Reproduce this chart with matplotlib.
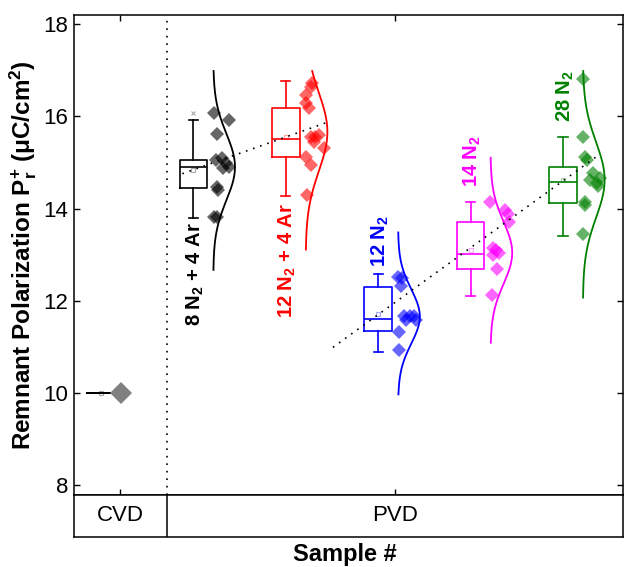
import numpy as np
import matplotlib
matplotlib.use("Agg")
import matplotlib.pyplot as plt

plt.rcParams["font.family"] = ["Liberation Sans", "DejaVu Sans"]
plt.rcParams["mathtext.fontset"] = "custom"
plt.rcParams["mathtext.rm"] = "Liberation Sans"
plt.rcParams["mathtext.bf"] = "Liberation Sans:bold"
plt.rcParams["mathtext.it"] = "Liberation Sans:italic"

# sample groups: CVD reference plus the PVD gas mixtures
positions = [0, 1, 2, 3, 4, 5]
group_names = ["CVD",
               r"8 N$_\mathbf{2}$ + 4 Ar",
               r"12 N$_\mathbf{2}$ + 4 Ar",
               r"12 N$_\mathbf{2}$",
               r"14 N$_\mathbf{2}$",
               r"28 N$_\mathbf{2}$"]
colors = ["black", "black", "#ff0000", "#0000ff", "#ff00ff", "#008000"]

# measured Pr+ per device (uC/cm^2) and horizontal scatter offsets
pts_cvd = [10.0]
pts_8n2_4ar = [16.07, 15.92, 15.62, 15.06, 15.10, 14.99, 14.90, 14.88, 14.47, 14.41, 13.82, 13.82]
pts_12n2_4ar = [16.72, 16.64, 16.46, 16.29, 16.18, 15.55, 15.55, 15.60, 15.45, 15.32, 15.12, 14.95, 14.30]
pts_12n2 = [12.52, 12.50, 12.31, 11.66, 11.66, 11.66, 11.59, 11.59, 11.33, 10.94]
pts_14n2 = [14.15, 13.97, 13.87, 13.71, 13.15, 13.11, 13.04, 13.00, 12.68, 12.13]
pts_28n2 = [16.81, 15.55, 15.12, 15.06, 14.77, 14.62, 14.56, 14.67, 14.49, 14.15, 14.08, 13.45]

jit_cvd = [0.22]
jit_8n2_4ar = [0.22, 0.39, 0.26, 0.24, 0.31, 0.35, 0.38, 0.32, 0.26, 0.27, 0.26, 0.22]
jit_12n2_4ar = [0.28, 0.27, 0.22, 0.22, 0.25, 0.27, 0.32, 0.36, 0.30, 0.41, 0.22, 0.27, 0.23]
jit_12n2 = [0.21, 0.26, 0.25, 0.28, 0.34, 0.39, 0.41, 0.30, 0.23, 0.22]
jit_14n2 = [0.21, 0.37, 0.40, 0.42, 0.24, 0.28, 0.31, 0.24, 0.29, 0.23]
jit_28n2 = [0.22, 0.22, 0.24, 0.26, 0.32, 0.29, 0.37, 0.40, 0.38, 0.24, 0.24, 0.22]

points = [pts_cvd, pts_8n2_4ar, pts_12n2_4ar, pts_12n2, pts_14n2, pts_28n2]
jitters = [jit_cvd, jit_8n2_4ar, jit_12n2_4ar, jit_12n2, jit_14n2, jit_28n2]

# box statistics
box_med = [10.0, 14.90, 15.51, 11.61, 13.02, 14.58]
box_q1 = [10.0, 14.45, 15.12, 11.35, 12.68, 14.13]
box_q3 = [10.0, 15.06, 16.18, 12.29, 13.71, 14.90]
box_lo = [10.0, 13.80, 14.28, 10.90, 12.11, 13.41]
box_hi = [10.0, 15.92, 16.77, 12.57, 14.15, 15.55]
box_mean = [10.0, 14.84, 15.55, 11.72, 13.11, 14.62]
box_fliers = [[], [16.07], [], [], [], []]

# normal fits drawn beside each PVD group (CVD has none)
fit_mu = [None, 14.90, 15.66, 11.66, 13.04, 14.62]
fit_sd = [None, 0.72, 0.85, 0.59, 0.67, 0.82]
fit_lo = [None, 12.67, 13.11, 9.97, 11.09, 12.07]
fit_hi = [None, 16.98, 16.98, 13.48, 15.10, 16.98]

# where each group label sits: (anchor value, above/below the box)
label_y = [None, 13.70, 14.12, 12.74, 14.47, 15.88]
label_va = [None, "top", "top", "bottom", "bottom", "bottom"]

# linear trends over the group means
trend_groups = [[1, 2], [3, 4, 5]]
trend_span = [(0.88, 2.46), (2.51, 5.40)]

fig = plt.figure(figsize=(6.25, 5.67), dpi=100)
ax = fig.add_axes([0.1184, 0.127, 0.8784, 0.8466])
band = fig.add_axes([0.1184, 0.0529, 0.8784, 0.0741])

xmin, xmax = -0.292, 5.649
split = 0.714

stats = []
for i in range(len(positions)):
    stats.append(dict(med=box_med[i], q1=box_q1[i], q3=box_q3[i],
                      whislo=box_lo[i], whishi=box_hi[i], mean=box_mean[i],
                      fliers=box_fliers[i]))

art = ax.bxp(stats, positions=positions, widths=0.30, capwidths=0.10,
             showmeans=True, manage_ticks=False, patch_artist=False)
for i, c in enumerate(colors):
    bc = "black" if i == 0 else c
    art["boxes"][i].set(color=bc, linewidth=1.2)
    art["medians"][i].set(color=bc, linewidth=1.2)
    for ln in art["whiskers"][2 * i:2 * i + 2] + art["caps"][2 * i:2 * i + 2]:
        ln.set(color=bc, linewidth=1.2)
    art["means"][i].set(marker="s", markersize=3, markerfacecolor="none",
                        markeredgecolor=bc, alpha=0.35, markeredgewidth=0.8)
    art["fliers"][i].set(marker="x", markersize=3, markeredgecolor="#aaaaaa",
                         markeredgewidth=0.8)

for i, (pos, pts, jit) in enumerate(zip(positions, points, jitters)):
    x = pos + np.array(jit)
    if i == 0:
        ax.plot(x, pts, "D", color="#808080", markersize=11,
                markeredgewidth=0, zorder=3)
    else:
        ax.plot(x, pts, "D", color=colors[i], alpha=0.6, markersize=7.5,
                markeredgewidth=0, zorder=3)

for i, pos in enumerate(positions):
    if fit_mu[i] is None:
        continue
    yy = np.linspace(fit_lo[i], fit_hi[i], 200)
    w = np.exp(-0.5 * ((yy - fit_mu[i]) / fit_sd[i]) ** 2)
    ax.plot(pos + 0.215 + 0.235 * w, yy, color=colors[i], linewidth=1.3, zorder=2)
    ax.text(pos + 0.02, label_y[i], group_names[i], rotation=90, color=colors[i],
            fontsize=14.5, fontweight="bold", ha="center", va=label_va[i])

for grp, (x0, x1) in zip(trend_groups, trend_span):
    gx = [positions[g] for g in grp]
    gy = [box_mean[g] for g in grp]
    k, b = np.polyfit(gx, gy, 1)
    xs = np.array([x0, x1])
    ax.plot(xs, k * xs + b, color="black", linewidth=1.2,
            linestyle=(0, (1, 3.5)), zorder=5)

ax.axvline(split, color="black", linewidth=1.2, linestyle=(0, (1, 3.5)))

ax.set_xlim(xmin, xmax)
ax.set_ylim(7.79, 18.195)
ax.set_yticks([8, 10, 12, 14, 16, 18])
ax.set_xticks([(xmin + split) / 2, (split + xmax) / 2])
ax.set_xticklabels([])
ax.tick_params(direction="in", top=True, right=True, length=4, width=1,
               labelsize=16, pad=4)
for sp in ax.spines.values():
    sp.set_linewidth(1.1)
ax.set_ylabel(r"Remnant Polarization P$_\mathbf{r}^\mathbf{+}$ (μC/cm$^\mathbf{2}$)",
              fontsize=17.5, fontweight="bold", labelpad=3)

band.set_xlim(xmin, xmax)
band.set_ylim(0, 1)
band.set_xticks([])
band.set_yticks([])
for sp in band.spines.values():
    sp.set_linewidth(1.1)
band.axvline(split, color="black", linewidth=1.1)
band.text((xmin + split) / 2, 0.5, "CVD", fontsize=16, ha="center", va="center")
band.text((split + xmax) / 2, 0.5, "PVD", fontsize=16, ha="center", va="center")

fig.text(0.552, 0.022, "Sample #", fontsize=17, fontweight="bold",
         ha="center", va="center")

fig.savefig("out.png", dpi=100)
